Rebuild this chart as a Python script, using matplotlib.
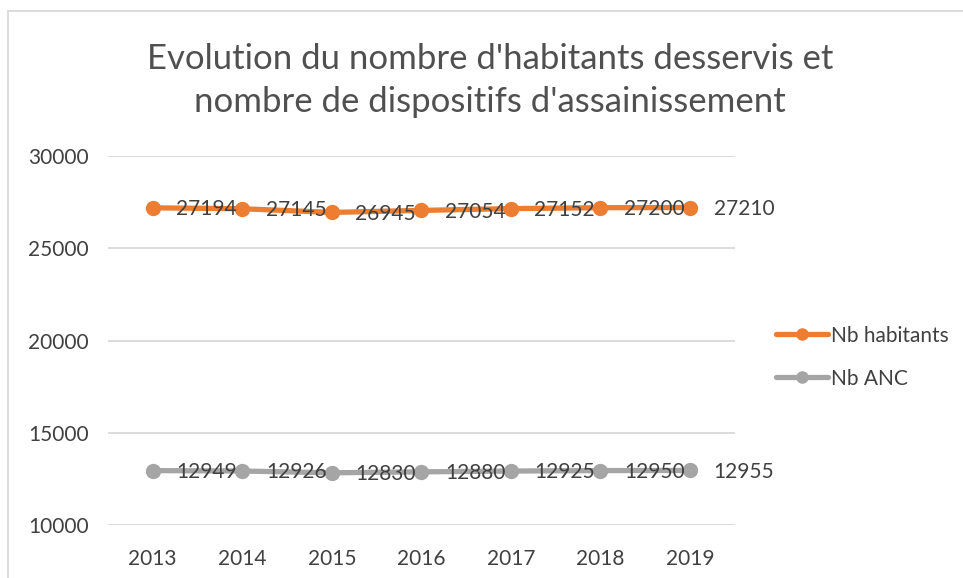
import matplotlib
matplotlib.use("Agg")
import matplotlib.pyplot as plt
from matplotlib.patches import Rectangle

plt.rcParams['font.family'] = ['Lato', 'DejaVu Sans']

years = ['2013', '2014', '2015', '2016', '2017', '2018', '2019']
nb_habitants = [27194, 27145, 26945, 27054, 27152, 27200, 27210]
nb_anc = [12949, 12926, 12830, 12880, 12925, 12950, 12955]

orange = '#ED7D31'
grey = '#A5A5A5'
txt = '#404040'

fig = plt.figure(figsize=(9.63, 5.78), dpi=100)
ax = fig.add_axes([0.112, 0.0917, 0.651, 0.6383])

x = list(range(len(years)))
ax.plot(x, nb_habitants, color=orange, lw=3.8, marker='o', ms=10, label='Nb habitants', solid_capstyle='round')
ax.plot(x, nb_anc, color=grey, lw=3.8, marker='o', ms=10, label='Nb ANC', solid_capstyle='round')

# data labels to the right of each point
for serie in [nb_habitants, nb_anc]:
    for i, v in enumerate(serie):
        ax.annotate(str(v), (i, v), xytext=(17, -1), textcoords='offset points',
                    ha='left', va='center', fontsize=15, color=txt)

ax.set_xlim(-0.5, 6.5)
ax.set_ylim(10000, 30000)
ax.set_yticks([10000, 15000, 20000, 25000, 30000])
ax.set_xticks(x)
ax.set_xticklabels(years)
ax.grid(axis='y', color='#D9D9D9', lw=1.3)
ax.set_axisbelow(True)
for s in ax.spines.values():
    s.set_visible(False)
ax.tick_params(length=0, labelsize=15, colors=txt)
ax.tick_params(axis='x', pad=17)
ax.tick_params(axis='y', pad=14)

fig.text(0.509, 0.861, "Evolution du nombre d'habitants desservis et\nnombre de dispositifs d'assainissement",
         ha='center', va='center', fontsize=25, color='#505050', linespacing=1.42)

# legend handles: smaller markers than the plotted ones
leg = fig.legend(loc='center left', bbox_to_anchor=(0.795, 0.382), frameon=False,
                 fontsize=15, labelcolor=txt, handlelength=2.5, handletextpad=0.15,
                 labelspacing=1.1, borderpad=0, markerscale=0.8)

fig.patches.append(Rectangle((8, -20), 1000, 578 + 20 - 11, transform=None,
                             fill=False, edgecolor='#D9D9D9', lw=1.3))

fig.savefig('out.png', dpi=100)
